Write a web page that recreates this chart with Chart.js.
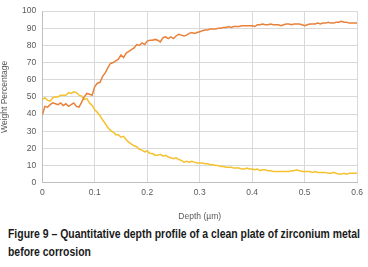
<!DOCTYPE html>
<html><head><meta charset="utf-8">
<script src="https://cdn.jsdelivr.net/npm/chart.js@4/dist/chart.umd.min.js"></script>
<style>
html,body{margin:0;padding:0;background:#fff;width:368px;height:267px;overflow:hidden}
#wrap{position:absolute;left:0;top:0;width:368px;height:222px}
.cap{position:absolute;left:8px;white-space:nowrap;font-family:"Liberation Sans",Arial,sans-serif;font-weight:bold;font-size:13px;line-height:15px;color:#1a1a1a;transform-origin:0 0}
#cap1{top:226px}
#cap2{top:244px}
</style></head><body>
<div id="wrap"><canvas id="c" width="368" height="222"></canvas></div>
<div class="cap" id="cap1">Figure 9 – Quantitative depth profile of a clean plate of zirconium metal</div>
<div class="cap" id="cap2">before corrosion</div>
<script>
const depth = [0,0.005,0.01,0.015,0.02,0.025,0.03,0.035,0.04,0.045,0.05,0.055,0.06,0.065,0.07,0.075,0.08,0.085,0.09,0.095,
0.1,0.105,0.11,0.115,0.12,0.125,0.13,0.135,0.14,0.145,0.15,0.155,0.16,0.165,0.17,0.175,0.18,0.185,0.19,0.195,
0.2,0.205,0.21,0.215,0.22,0.225,0.23,0.235,0.24,0.245,0.25,0.255,0.26,0.265,0.27,0.275,0.28,0.285,0.29,0.295,
0.3,0.305,0.31,0.315,0.32,0.325,0.33,0.335,0.34,0.345,0.35,0.355,0.36,0.365,0.37,0.375,0.38,0.385,0.39,0.395,
0.4,0.405,0.41,0.415,0.42,0.425,0.43,0.435,0.44,0.445,0.45,0.455,0.46,0.465,0.47,0.475,0.48,0.485,0.49,0.495,
0.5,0.505,0.51,0.515,0.52,0.525,0.53,0.535,0.54,0.545,0.55,0.555,0.56,0.565,0.57,0.575,0.58,0.585,0.59,0.595,0.6];
const seriesOrange = [39.5,44.5,44,45.5,46.5,46,45.5,46.5,45,46,44.5,45.5,46.5,44.5,44,47,50,52,51.5,51,
56,58,58.5,62,64,67,69.5,70,71,72,74.5,73,75.5,76.5,77.5,78.5,80.5,80,81.5,80.5,
82.5,83,83,83.5,83,82,84.5,85,84,85,84,85.5,86.5,86,85.5,86,87,87.5,87,87.5,
88,88.5,89,89,89.5,89.5,89.5,90,90,90.5,90.5,91,90.5,91,91,91,91.5,91.5,91.5,91.5,
91.5,91,92,92,92.5,92,92,92.5,92,92,92,91.5,92,92.5,92.5,92,92.5,92.5,92.5,92,
91.5,92,92.5,92.5,92.5,93,92.5,93,93,93.5,93,93,93.5,93.5,94,93.5,93.5,93,93,93,93];
const seriesYellow = [48.5,49.5,48,47.5,49.5,50,50,51,51,51,52.5,52,53,52.5,51,50.5,48.5,49,46.5,45,
42.5,41,39,36.5,34.5,32,30.5,29.5,28,28,26.5,27,25,23.5,22.5,21.5,21,19.5,19,18,
18.5,17,17,16,16,16.5,15.5,16,15,14.5,14,14.5,13.5,13,12,12.5,12,12.5,12,11.5,
11.5,11.5,11,11,10.5,10.5,10,10,9.5,9.5,9,9,9,8.5,8.5,8.5,8,8,8.5,8,
8,7.5,8,7,7.5,7.5,7,7,6.5,6.5,6.5,6.5,6.5,6.5,6.5,7,7,7.5,7,6.5,
6.5,6.5,6.5,6,6.5,6,6,6,6,5.5,5.5,6,5.5,5,5,5.5,5,5.5,5.5,5.5,5.5];
const xTicks = [0,0.1,0.2,0.3,0.4,0.5,0.6];
const yTicks = [0,10,20,30,40,50,60,70,80,90,100];

// narrow the caption to the reference width
const c1 = document.getElementById('cap1'), c2 = document.getElementById('cap2');
const sc = 352 / c1.getBoundingClientRect().width;
c1.style.transform = c2.style.transform = 'scaleX(' + sc + ')';

const toPts = ys => depth.map((d,i)=>({x:d,y:ys[i]}));
const tickFont = {family:"'Liberation Sans', Arial, sans-serif", size:8.5};
new Chart(document.getElementById('c'), {
  type:'line',
  data:{datasets:[
    {data:toPts(seriesOrange), borderColor:'#E8813A', borderWidth:1.5, pointRadius:0, tension:0, fill:false},
    {data:toPts(seriesYellow), borderColor:'#F6C12E', borderWidth:1.5, pointRadius:0, tension:0, fill:false}
  ]},
  options:{
    responsive:false, animation:false, devicePixelRatio:1,
    layout:{padding:{top:10,right:10,left:0,bottom:0}},
    plugins:{legend:{display:false}, tooltip:{enabled:false}},
    scales:{
      x:{type:'linear', min:0, max:0.6,
        afterBuildTicks:s=>{s.ticks = xTicks.map(v=>({value:v}));},
        ticks:{color:'#595959', font:tickFont, padding:5, maxRotation:0, callback:v=>String(v)},
        grid:{color:'#d9d9d9', lineWidth:1, drawTicks:false},
        border:{color:'#bfbfbf'},
        title:{display:true, text:'Depth (µm)', color:'#595959', font:tickFont, padding:{top:3,bottom:0}},
        afterFit:s=>{s.height = 39.3;}
      },
      y:{min:0, max:100,
        afterBuildTicks:s=>{s.ticks = yTicks.map(v=>({value:v}));},
        ticks:{color:'#595959', font:tickFont, padding:6},
        grid:{color:'#d9d9d9', lineWidth:1, drawTicks:false},
        border:{color:'#bfbfbf'},
        title:{display:true, text:'Weight Percentage', color:'#595959', font:tickFont, padding:{top:0,bottom:3}},
        afterFit:s=>{s.width = 42.3;}
      }
    }
  }
});
</script>
</body></html>
